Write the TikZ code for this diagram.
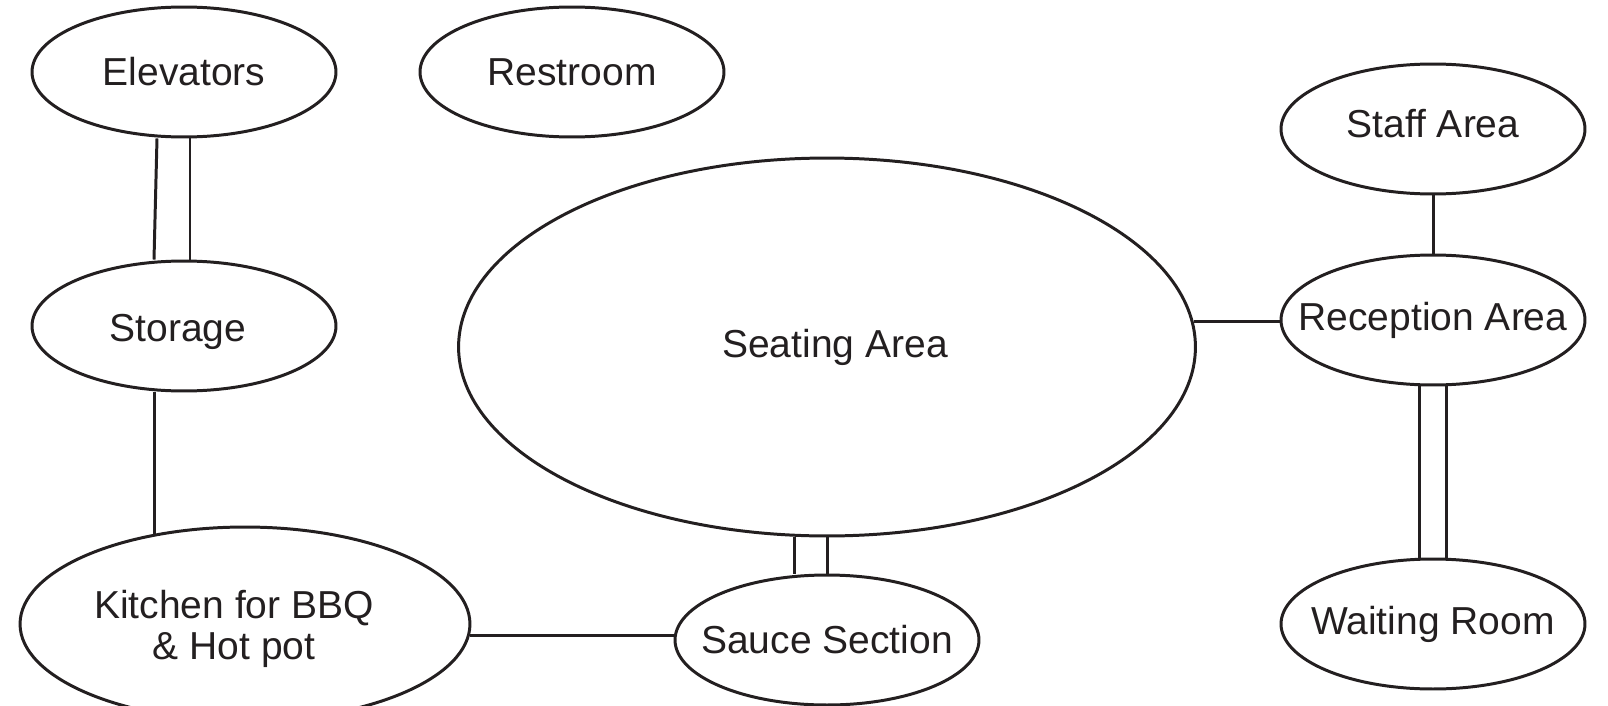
\documentclass[tikz,border=0pt]{standalone}
\usepackage{fontspec}
\setmainfont{Liberation Sans}
\usetikzlibrary{shapes.geometric,calc}
\definecolor{ink}{RGB}{35,31,32}
\begin{document}
\begin{tikzpicture}[x=0.02cm,y=-0.02cm,line width=1.7pt,color=ink,
  room/.style 2 args={ellipse,draw,inner sep=0pt,minimum width=6.08cm,minimum height=2.6cm,
    label={[font=\fontsize{22.2}{23}\selectfont,align=center,#2]center:#1}}]
\useasboundingbox (0,0) rectangle (1608,706);
\node[room={Elevators}{}] (elev) at (184,72) {};
\node[room={Restroom}{}] (rest) at (572,72) {};
\node[room={Staff Area}{yshift=0.1cm}] (staff) at (1433,129) {};
\node[room={Storage}{xshift=-0.12cm,yshift=-0.12cm}] (stor) at (184,326) {};
\node[room={Seating Area}{xshift=0.16cm},minimum width=14.74cm,minimum height=7.56cm] (seat) at (827,347) {};
\node[room={Reception Area}{}] (recep) at (1433,320) {};
\node[room={Kitchen for BBQ\\ \& Hot pot}{xshift=-0.22cm,yshift=-0.1cm},
  minimum width=9cm,minimum height=3.88cm] (kitch) at (245,624) {};
\node[room={Sauce Section}{}] (sauce) at (827,640) {};
\node[room={Waiting Room}{}] (wait) at (1433,624) {};
\draw ($(elev.south)+(-27,0)$) -- ($(stor.north)+(-30,0)$);
\draw ($(elev.south)+(6,0)$) -- ($(stor.north)+(6,0)$);
\draw (stor.south -| kitch.135) -- (kitch.135);
\draw (kitch.-3) -- (kitch.-3 -| sauce.west);
\draw ($(seat.south)+(-33,0)$) -- ($(sauce.north)+(-33,0)$);
\draw (seat.south) -- (sauce.north);
\draw (seat.4) -- (seat.4 -| recep.west);
\draw (staff.south) -- (recep.north);
\draw ($(recep.south)+(-14,0)$) -- ($(wait.north)+(-14,0)$);
\draw ($(recep.south)+(13,0)$) -- ($(wait.north)+(13,0)$);
\end{tikzpicture}
\end{document}
